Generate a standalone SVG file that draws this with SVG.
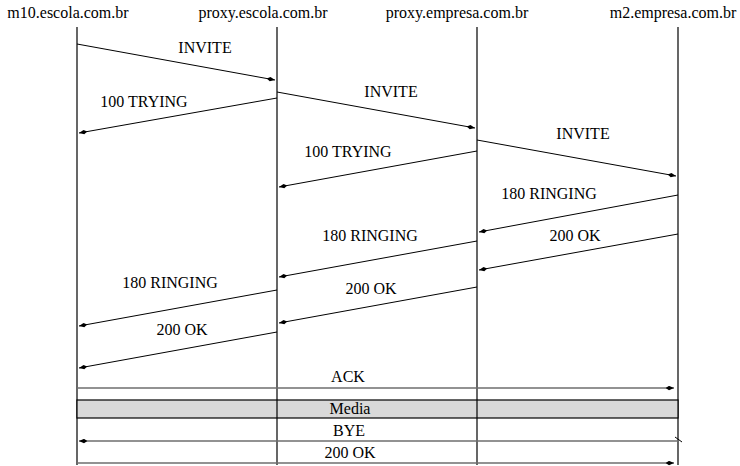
<svg xmlns="http://www.w3.org/2000/svg" width="740" height="466" viewBox="0 0 740 466">
  <style>
    text { font-family: "Liberation Serif", "Times New Roman", serif; font-size: 16px; fill: #000; text-anchor: middle; }
    .life { stroke: #000; stroke-width: 1.2; }
    .msg { stroke: #000; stroke-width: 1; fill: none; marker-end: url(#head); }
    .harrow { stroke: #6e6e6e; stroke-width: 1.5; fill: none; marker-end: url(#head); }
  </style>
  <defs>
    <marker id="head" viewBox="0 0 10 6" refX="10" refY="3" markerWidth="9" markerHeight="5" markerUnits="userSpaceOnUse" orient="auto">
      <path d="M0,3 L4,0.4 L10,3 L4,5.6 Z" fill="#000"/>
    </marker>
  </defs>
  <rect width="740" height="466" fill="#fff"/>

  <!-- hosts with their lifelines -->
  <g id="m10">
    <text x="68" y="18">m10.escola.com.br</text>
    <line class="life" x1="77" y1="27" x2="77" y2="465"/>
  </g>
  <g id="proxy-escola">
    <text x="263" y="18">proxy.escola.com.br</text>
    <line class="life" x1="277" y1="27" x2="277" y2="465"/>
  </g>
  <g id="proxy-empresa">
    <text x="457" y="18">proxy.empresa.com.br</text>
    <line class="life" x1="477" y1="27" x2="477" y2="465"/>
  </g>
  <g id="m2">
    <text x="673" y="18">m2.empresa.com.br</text>
    <line class="life" x1="678" y1="27" x2="678" y2="465"/>
  </g>

  <!-- media session band -->
  <g id="media">
    <rect x="77" y="400" width="601" height="18" fill="#d9d9d9" stroke="#000" stroke-width="1.2"/>
    <line class="life" x1="277" y1="400" x2="277" y2="418"/>
    <line class="life" x1="477" y1="400" x2="477" y2="418"/>
    <text x="350" y="414">Media</text>
  </g>

  <!-- SIP messages -->
  <g id="messages">
    <line class="msg" x1="77" y1="44" x2="275" y2="80"/>
    <text x="205" y="53">INVITE</text>

    <line class="msg" x1="277" y1="98" x2="79" y2="133"/>
    <text x="144" y="107">100 TRYING</text>

    <line class="msg" x1="277" y1="92" x2="475" y2="128"/>
    <text x="391" y="97">INVITE</text>

    <line class="msg" x1="477" y1="151" x2="279" y2="187"/>
    <text x="348" y="157">100 TRYING</text>

    <line class="msg" x1="477" y1="140" x2="676" y2="176"/>
    <text x="583" y="139">INVITE</text>

    <line class="msg" x1="678" y1="195" x2="479" y2="232"/>
    <text x="549" y="199">180 RINGING</text>

    <line class="msg" x1="477" y1="241" x2="279" y2="277"/>
    <text x="370" y="241">180 RINGING</text>

    <line class="msg" x1="678" y1="234" x2="479" y2="270"/>
    <text x="575" y="241">200 OK</text>

    <line class="msg" x1="277" y1="290" x2="79" y2="326"/>
    <text x="170" y="288">180 RINGING</text>

    <line class="msg" x1="477" y1="287" x2="279" y2="323"/>
    <text x="371" y="294">200 OK</text>

    <line class="msg" x1="277" y1="332" x2="79" y2="368"/>
    <text x="182" y="335">200 OK</text>

    <line class="harrow" x1="77" y1="388" x2="674" y2="388"/>
    <text x="348" y="382">ACK</text>

    <line class="harrow" x1="678" y1="441" x2="79" y2="441"/>
    <line stroke="#000" stroke-width="1" x1="675" y1="437" x2="682" y2="442"/>
    <text x="349" y="436">BYE</text>

    <line class="harrow" x1="77" y1="463" x2="674" y2="463"/>
    <text x="350" y="458">200 OK</text>
  </g>
</svg>
